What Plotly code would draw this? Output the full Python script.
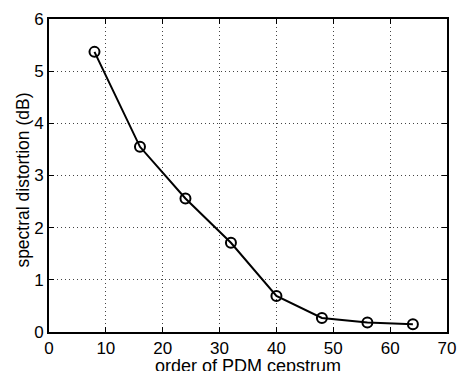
import plotly.graph_objects as go

orders = [8, 16, 24, 32, 40, 48, 56, 64]
distortion = [5.37, 3.55, 2.56, 1.71, 0.69, 0.27, 0.18, 0.15]
x_ticks = [0, 10, 20, 30, 40, 50, 60, 70]
y_ticks = [0, 1, 2, 3, 4, 5, 6]
x_title = "order of PDM cepstrum"
y_title = "spectral distortion (dB)"

fig = go.Figure()
fig.add_trace(go.Scatter(
    x=orders, y=distortion, mode="lines+markers",
    line=dict(color="black", width=2),
    marker=dict(symbol="circle-open", size=10, color="black", line=dict(width=2)),
    showlegend=False, cliponaxis=False,
))

font = "Liberation Sans, Arial, sans-serif"
fig.update_layout(
    width=457, height=371,
    margin=dict(l=49, r=10, t=19, b=39, pad=0),
    paper_bgcolor="white", plot_bgcolor="white",
    font=dict(family=font, size=17, color="black"),
)
grid = dict(showgrid=True, gridcolor="#444444", griddash="1px,3px", gridwidth=1)
fig.update_xaxes(
    range=[0, 70], tickvals=x_ticks, ticks="inside", ticklen=5, tickcolor="black",
    showline=True, linecolor="black", linewidth=2, mirror="ticks",
    zeroline=False, automargin=False, **grid,
    tickfont=dict(size=17),
)
fig.update_yaxes(
    range=[0, 6], tickvals=y_ticks, ticks="inside", ticklen=5, tickcolor="black",
    showline=True, linecolor="black", linewidth=2, mirror="ticks",
    zeroline=False, automargin=False, **grid,
    tickfont=dict(size=17),
)
fig.add_annotation(text=x_title, xref="paper", yref="paper", x=0.5, y=-0.109,
                   xanchor="center", yanchor="middle", showarrow=False,
                   font=dict(size=18))
fig.add_annotation(text=y_title, xref="paper", yref="paper", x=-0.066, y=0.486,
                   xanchor="center", yanchor="middle", showarrow=False,
                   textangle=-90, font=dict(size=17.5))
fig.write_html("out.html")
